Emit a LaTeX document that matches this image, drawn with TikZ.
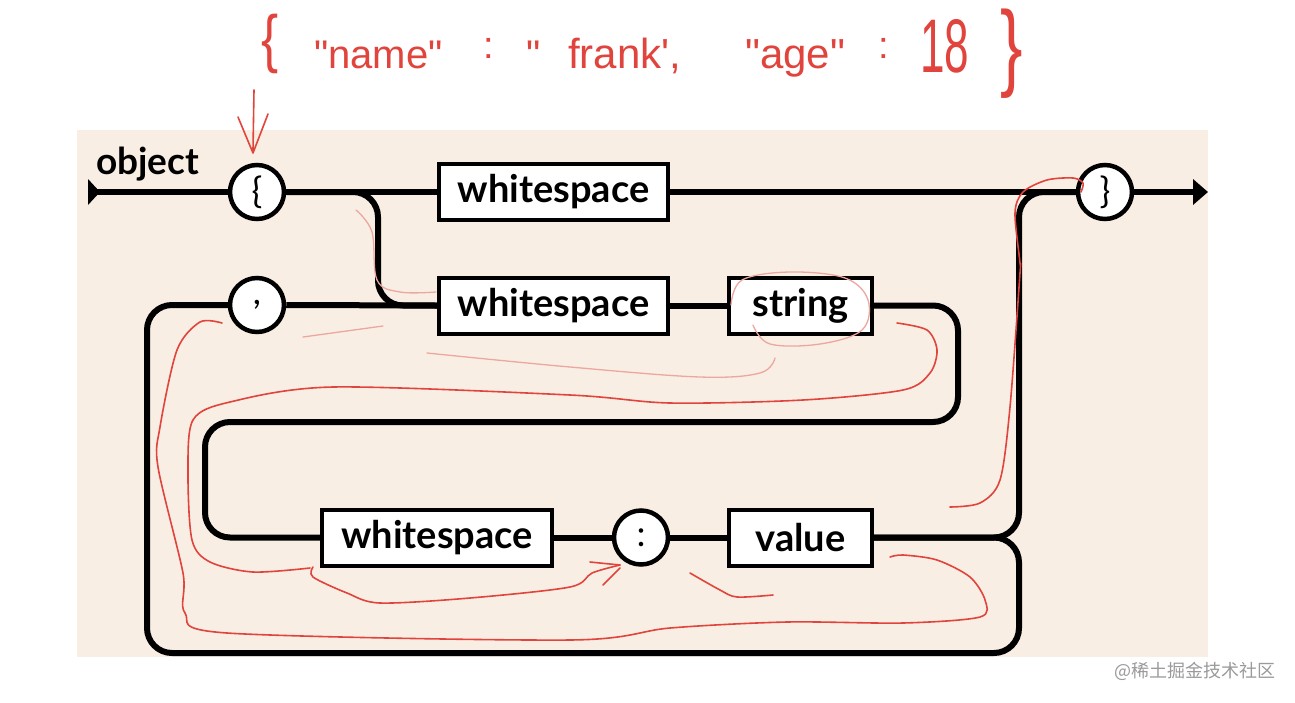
\documentclass[tikz,border=0pt]{standalone}
\usepackage{fontspec}
\usepackage{graphicx}
\usetikzlibrary{arrows.meta}
\newfontfamily\diafont{Lato}
\newfontfamily\handfont{Liberation Sans}
\newfontfamily\cjkfont{Noto Sans CJK SC}
\definecolor{bgbeige}{HTML}{F9EEE3}
\definecolor{pen}{HTML}{E0443C}
\definecolor{penfaint}{HTML}{ECA7A0}
\definecolor{wmgray}{HTML}{9A9A9A}
\begin{document}
\begin{tikzpicture}[x=1pt,y=-1pt,
  conn/.style={line width=6pt, rounded corners=25pt, line join=round},
  termbox/.style={draw, line width=4pt, fill=white, minimum height=56pt, inner sep=0pt,
    font=\diafont\bfseries\fontsize{38}{40}\selectfont},
  litcirc/.style={draw, circle, line width=4.5pt, fill=white, minimum size=54pt, inner sep=0pt,
    font=\diafont\fontsize{36}{38}\selectfont},
  redpen/.style={pen, line width=1.6pt, line cap=round, line join=round},
  redfaint/.style={penfaint, line width=1.3pt, line cap=round, line join=round},
  hand/.style={pen, inner sep=0pt},
]
\useasboundingbox (0,0) rectangle (1295,702);
\fill[white] (0,0) rectangle (1295,702);
\fill[bgbeige] (77,130) rectangle (1208,657);

% ---------- nodes ----------
\node[litcirc] (lbrace) at (257,192) {\{};
\node[termbox, minimum width=229pt] (ws1) at (553.5,192) {whitespace};
\node[litcirc] (rbrace) at (1105,192) {\}};
\node[litcirc] (comma) at (257,305) {,};
\node[termbox, minimum width=229pt] (ws2) at (553.5,305.5) {whitespace};
\node[termbox, minimum width=143pt] (str) at (800.5,305.5) {string};
\node[termbox, minimum width=230pt] (ws3) at (437,537.5) {whitespace};
\node[litcirc] (colon) at (641,537.5) {:};
\node[termbox, minimum width=143pt] (val) at (800.5,537.5) {value};
\node[anchor=base west, inner sep=0pt, font=\diafont\bfseries\fontsize{37}{40}\selectfont] (objlbl) at (96,174) {object};

\coordinate (start) at (88,192);
\coordinate (finish) at (1208,192);

% ---------- connectors ----------
\fill (88,179) -- (100,192) -- (88,205) -- cycle;
\draw[conn] (start) -- (lbrace.west);
\draw[conn] (lbrace.east) -- (ws1.west);
\draw[conn] (ws1.east) -- (rbrace.west);
\draw[conn, -{Triangle[length=15pt,width=25pt]}] (rbrace.east) -- (finish);
\draw[conn] (lbrace.east) -- (378,192) -- (378,305.5) -- (ws2.west);
\draw[conn] (comma.east) -- (ws2.west);
\draw[conn] (ws2.east) -- (str.west);
\draw[conn] (str.east) -- (958,305.5) -- (958,422) -- (205,422) -- (205,537.5) -- (ws3.west);
\draw[conn] (ws3.east) -- (colon.west);
\draw[conn] (colon.east) -- (val.west);
\draw[conn] (val.east) -- (1019,537.5) -- (1019,192) -- (rbrace.west);
\draw[conn] (val.east) -- (1019,537.5) -- (1019,653) -- (147,653) -- (147,305) -- (comma.west);

% ---------- red handwriting ----------
\node[hand, font=\handfont\fontsize{64}{64}\selectfont] (h1) at (270,44) {\scalebox{0.8}[1]{\{}};
\node[hand, anchor=base west, font=\handfont\fontsize{40}{40}\selectfont] (h2) at (314,68) {"name"};
\node[hand, font=\handfont\fontsize{38}{38}\selectfont] (h3) at (489,48) {:};
\node[hand, anchor=base west, font=\handfont\fontsize{40}{40}\selectfont] (h4) at (526,68) {"};
\node[hand, anchor=base west, font=\handfont\fontsize{42}{42}\selectfont] (h5) at (568,68) {frank',};
\node[hand, anchor=base west, font=\handfont\fontsize{42}{42}\selectfont] (h6) at (745,68) {"age"};
\node[hand, font=\handfont\fontsize{38}{38}\selectfont] (h7) at (884,48) {:};
\node[hand, anchor=base west, font=\handfont\fontsize{76}{76}\selectfont] (h8) at (920,72) {\scalebox{0.58}[1]{18}};
\node[hand, font=\handfont\fontsize{96}{96}\selectfont] (h9) at (1012,54) {\scalebox{0.7}[1]{\}}};

% red arrow into {
\draw[redpen] (254,90) -- (253,150);
\draw[redpen] (238,117) -- (253,153) -- (268,114);

% red trace curves
\draw[redfaint] plot[smooth, tension=0.6] coordinates {(356,210) (372,232) (377,280) (400,292) (436,292)};
\draw[redfaint] plot[smooth, tension=0.6] coordinates {(427,353) (570,367) (700,377) (760,373) (775,358)};
\draw[redfaint] plot[smooth, tension=0.6] coordinates {(753,325) (770,344) (820,344) (862,330) (868,300) (845,278) (790,272) (742,280) (731,305)};
\draw[redpen] plot[smooth, tension=0.5] coordinates {(897,323) (927,330) (937,350) (930,373) (903,390) (803,400) (670,403) (570,395) (333,387) (230,402) (193,420) (188,473) (192,540) (210,562) (253,572) (310,568)};
\draw[redpen] plot[smooth, tension=0.5] coordinates {(313,567) (313,577) (347,593) (380,603) (470,598) (570,587) (592,573) (620,565)};
\draw[redpen] (590,562) -- (620,565);
\draw[redpen] (603,585) -- (620,568);
\draw[redpen] plot[smooth, tension=0.5] coordinates {(222,323) (200,322) (177,350) (160,427) (158,467) (183,573) (185,613) (227,633) (570,640) (670,628) (787,622) (903,623) (980,617) (985,600) (970,577) (937,560) (903,555) (890,557)};
\draw[redfaint] (303,337) -- (383,326);
\draw[redpen] plot[smooth, tension=0.5] coordinates {(690,573) (720,590) (737,597) (773,595)};
\draw[redpen] plot[smooth, tension=0.5] coordinates {(950,507) (980,503) (1000,480) (1010,407) (1020,273) (1020,263) (1015,213) (1023,192) (1047,180) (1073,178) (1083,183) (1081,192)};

% ---------- watermark ----------
\node[wmgray, font=\cjkfont\fontsize{18}{20}\selectfont] (wm) at (1195,671) {@稀土掘金技术社区};
\end{tikzpicture}
\end{document}
